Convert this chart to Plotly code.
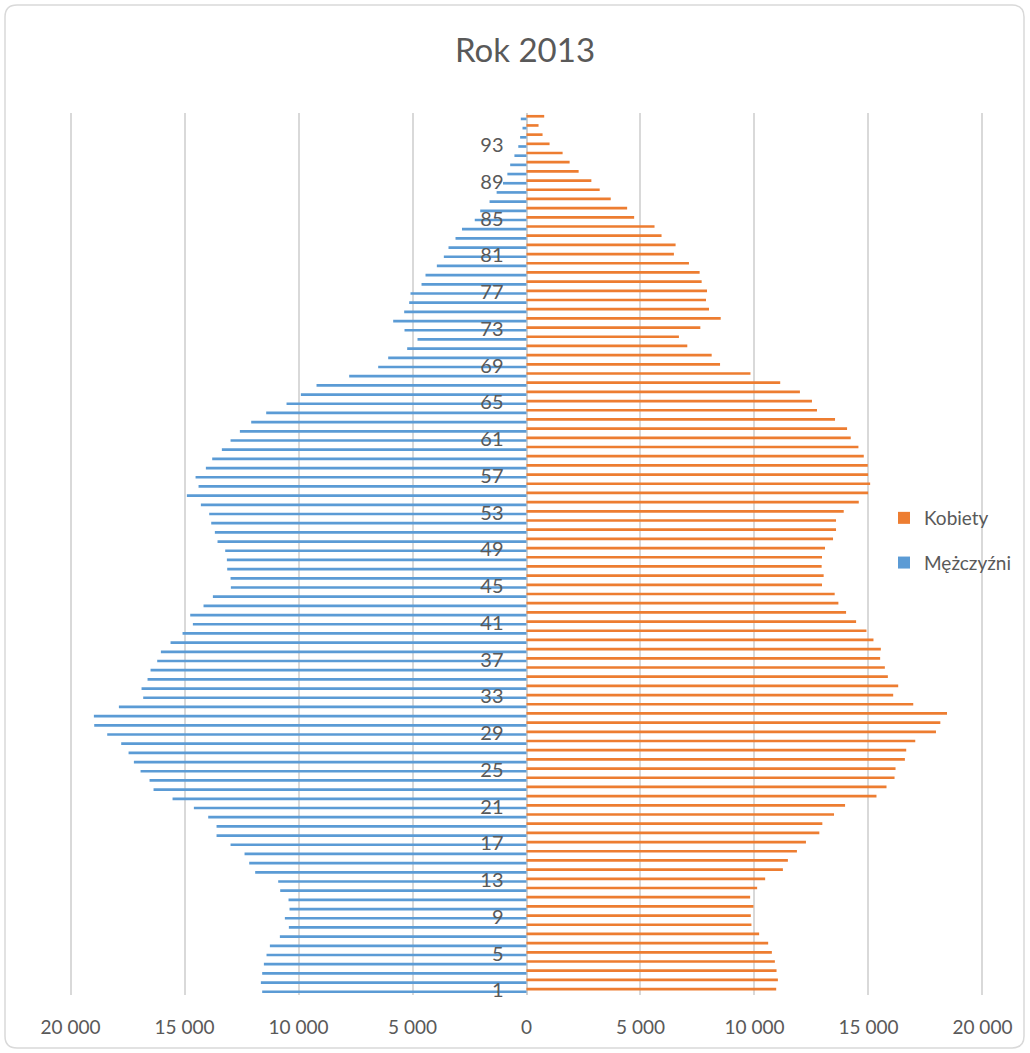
import plotly.graph_objects as go

ages = list(range(1, 97))
men = [11594, 11652, 11594, 11520, 11404, 11257, 10819, 10424, 10599, 10395,
       10439, 10804, 10892, 11901, 12164, 12368, 12982, 13596, 13596, 13962,
       14591, 15526, 16360, 16535, 16930, 17222, 17456, 17778, 18392, 18962,
       18977, 17880, 16813, 16886, 16623, 16491, 16199, 16038, 15614, 15088,
       14635, 14751, 14167, 13757, 12968, 12982, 13129, 13143, 13216, 13553,
       13670, 13830, 13918, 14284, 14898, 14386, 14517, 14064, 13787, 13363,
       12982, 12573, 12076, 11418, 10526, 9898, 9211, 7778, 6506, 6067,
       5234, 4781, 5351, 5848, 5365, 5146, 5088, 4605, 4430, 3933,
       3626, 3421, 3114, 2830, 2270, 2030, 1620, 1310, 1030, 840,
       716, 530, 360, 280, 175, 250]
women = [10953, 11027, 10968, 10895, 10763, 10601, 10205, 9868, 9839, 9956,
         9810, 10117, 10469, 11247, 11466, 11862, 12258, 12845, 12977, 13490,
         13974, 15352, 15792, 16144, 16188, 16598, 16657, 17053, 17962, 18153,
         18446, 16965, 16085, 16305, 15851, 15719, 15513, 15543, 15220, 14912,
         14458, 14018, 13681, 13519, 12962, 13035, 12947, 12962, 13094, 13446,
         13578, 13578, 13915, 14575, 14986, 15074, 14986, 14971, 14795, 14560,
         14223, 14062, 13534, 12742, 12522, 11994, 11129, 9824, 8490, 8123,
         7053, 6686, 7625, 8519, 8006, 7874, 7918, 7683, 7595, 7126,
         6466, 6540, 5924, 5616, 4722, 4414, 3695, 3211, 2845, 2287,
         1892, 1584, 1012, 704, 528, 777]
age_ticks = list(range(1, 97, 4))
x_ticks = [-20000, -15000, -10000, -5000, 0, 5000, 10000, 15000, 20000]
x_tick_text = ["20 000", "15 000", "10 000", "5 000", "0", "5 000", "10 000", "15 000", "20 000"]

W, H = 1030, 1053
XR = 20200                      # axis half-range (slightly wider so edge gridlines show)
PXU = 456 / 20000               # pixels per unit
ZERO_X = 527
ML = round(ZERO_X - XR * PXU)
PW = round(2 * XR * PXU)
MR = W - ML - PW
MT, MB = 113, 58
PH = H - MT - MB

def px(x):
    return (x - ML) / PW

def py(y):
    return (H - MB - y) / PH

FONT = "Lato"
TXT = "#595959"

fig = go.Figure()
fig.add_trace(go.Bar(
    y=ages, x=[-v for v in men], orientation="h", name="Mężczyźni",
    marker=dict(color="#5B9BD5", line=dict(width=0)), legendgroup="m", legendrank=2,
))
fig.add_trace(go.Bar(
    y=ages, x=women, orientation="h", name="Kobiety",
    marker=dict(color="#ED7D31", line=dict(width=0)), legendgroup="k", legendrank=1,
))

# rounded border
x0, x1 = px(5), px(1024)
y0, y1 = py(1048), py(5)
rx, ry = 12 / PW, 12 / PH
path = (f"M {x0+rx},{y1} L {x1-rx},{y1} Q {x1},{y1} {x1},{y1-ry} "
        f"L {x1},{y0+ry} Q {x1},{y0} {x1-rx},{y0} L {x0+rx},{y0} "
        f"Q {x0},{y0} {x0},{y0+ry} L {x0},{y1-ry} Q {x0},{y1} {x0+rx},{y1} Z")

fig.update_layout(
    width=W, height=H,
    margin=dict(l=ML, r=MR, t=MT, b=MB),
    paper_bgcolor="white", plot_bgcolor="white",
    barmode="group", bargap=0.42, bargroupgap=0,
    title=dict(text="Rok 2013", x=px(525), xref="paper", xanchor="center",
               y=1 - 50 / H, yanchor="middle",
               font=dict(family=FONT, size=33, color=TXT)),
    font=dict(family=FONT, color=TXT),
    xaxis=dict(range=[-XR, XR], tickvals=x_ticks, ticktext=x_tick_text,
               showgrid=True, gridcolor="#d9d9d9", gridwidth=1.5,
               zeroline=True, zerolinecolor="#d0d0d0", zerolinewidth=2,
               showline=False, ticks="", ticklabelstandoff=19,
               tickfont=dict(family=FONT, size=19, color=TXT), fixedrange=True),
    yaxis=dict(range=[0.5, 96.5], tickvals=age_ticks, ticktext=[str(a) for a in age_ticks],
               anchor="free", position=0.5, showgrid=False, zeroline=False,
               showline=False, ticks="", ticklabelstandoff=23,
               tickfont=dict(family=FONT, size=20, color=TXT), fixedrange=True),
    legend=dict(x=px(884), y=py(499), xanchor="left", yanchor="top",
                traceorder="grouped", tracegroupgap=17,
                font=dict(family=FONT, size=19, color=TXT),
                bgcolor="rgba(0,0,0,0)", itemwidth=30),
    shapes=[dict(type="path", path=path, xref="paper", yref="paper",
                 line=dict(color="#d9d9d9", width=1.5), layer="below")],
)

fig.write_html("out.html", config={"displayModeBar": False},
               post_script="document.body.style.margin='0';document.body.style.overflow='hidden';")
